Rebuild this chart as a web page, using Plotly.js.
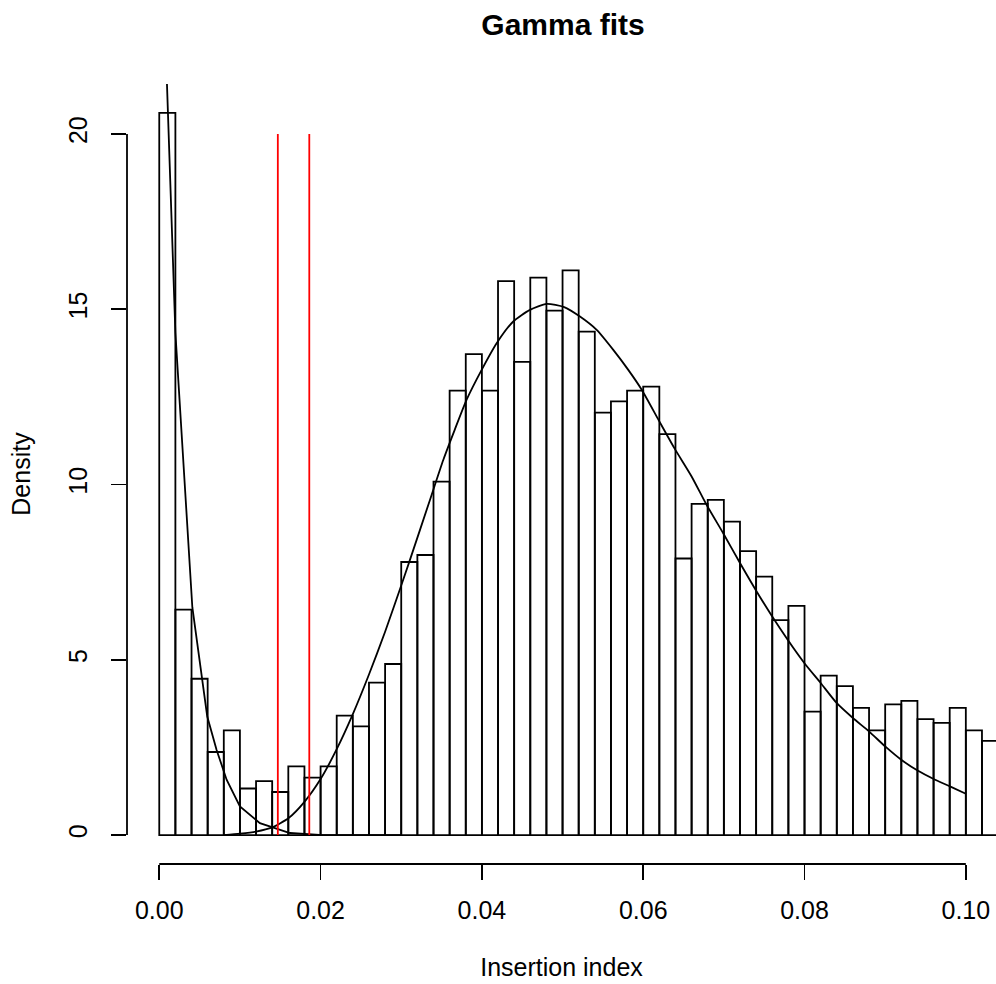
<!DOCTYPE html>
<html>
<head>
<meta charset="utf-8">
<script src="https://cdn.plot.ly/plotly-3.0.1.min.js"></script>
<style>
  html, body { margin: 0; padding: 0; background: #ffffff; }
  #chart { width: 996px; height: 984px; }
</style>
</head>
<body>
<div id="chart"></div>
<script>
// Histogram of the insertion index (bin width 0.002), density scale
const binMids = [
  0.001, 0.003, 0.005, 0.007, 0.009, 0.011, 0.013, 0.015, 0.017, 0.019,
  0.021, 0.023, 0.025, 0.027, 0.029, 0.031, 0.033, 0.035, 0.037, 0.039,
  0.041, 0.043, 0.045, 0.047, 0.049, 0.051, 0.053, 0.055, 0.057, 0.059,
  0.061, 0.063, 0.065, 0.067, 0.069, 0.071, 0.073, 0.075, 0.077, 0.079,
  0.081, 0.083, 0.085, 0.087, 0.089, 0.091, 0.093, 0.095, 0.097, 0.099,
  0.101, 0.103
];
const density = [
  20.60, 6.43, 4.46, 2.37, 2.99, 1.33, 1.54, 1.23, 1.96, 1.64,
  1.96, 3.41, 3.10, 4.35, 4.88, 7.79, 7.99, 10.08, 12.68, 13.72,
  12.68, 15.80, 13.50, 15.90, 14.96, 16.11, 14.36, 12.05, 12.37, 12.68,
  12.79, 11.44, 7.89, 9.45, 9.56, 8.94, 8.10, 7.37, 6.13, 6.54,
  3.52, 4.55, 4.25, 3.63, 2.99, 3.73, 3.83, 3.31, 3.20, 3.63,
  2.99, 2.69
];
const binWidth = 0.002;

// Fitted gamma density for the low component
const fitLowX = [0.00087, 0.002, 0.0041, 0.00505, 0.00595, 0.00711, 0.00835, 0.01, 0.01248, 0.0162, 0.0203, 0.03];
const fitLowY = [22.0, 14.33, 6.5, 4.95, 3.38, 2.43, 1.58, 0.82, 0.34, 0.06, 0.0, 0.0];

// Fitted gamma density for the main component
const fitHighX = [
  0.008, 0.010, 0.012, 0.014, 0.016, 0.018, 0.020, 0.022, 0.024, 0.026,
  0.028, 0.030, 0.03108, 0.03356, 0.03521, 0.03663, 0.03811, 0.03997, 0.04183, 0.04389,
  0.04596, 0.04803, 0.0502, 0.05216, 0.05423, 0.05629, 0.05815, 0.0598, 0.06193, 0.06388,
  0.066, 0.06786, 0.06992, 0.072, 0.07406, 0.07695, 0.07997, 0.082, 0.08398, 0.086,
  0.08799, 0.09, 0.09199, 0.09402, 0.09601, 0.09803, 0.1
];
const fitHighY = [
  0.0, 0.04, 0.10, 0.22, 0.48, 0.95, 1.60, 2.45, 3.45, 4.58,
  5.80, 7.12, 7.85, 9.56, 10.7, 11.56, 12.42, 13.27, 14.03, 14.65,
  14.98, 15.15, 15.06, 14.79, 14.41, 13.84, 13.27, 12.71, 11.83, 11.03,
  10.23, 9.42, 8.61, 7.76, 6.95, 5.90, 4.91, 4.34, 3.77, 3.34,
  2.96, 2.53, 2.15, 1.84, 1.60, 1.39, 1.18
];

// Thresholds marked in red
const cutoffs = [0.0147, 0.0186];
const cutoffTop = 20;

const xTicks = [0, 0.02, 0.04, 0.06, 0.08, 0.10];
const xTickText = ['0.00', '0.02', '0.04', '0.06', '0.08', '0.10'];
const yTicks = [0, 5, 10, 15, 20];
const yTickText = ['0', '5', '10', '15', '20'];

const FONT = 'Liberation Sans, Arial, Helvetica, sans-serif';
const LW = 1.8;

const traces = [
  {
    type: 'bar',
    x: binMids,
    y: density,
    width: binWidth,
    marker: { color: 'rgba(255,255,255,0)', line: { color: '#000000', width: LW } },
    hoverinfo: 'x+y',
    showlegend: false
  },
  {
    type: 'scatter', mode: 'lines',
    x: fitLowX, y: fitLowY,
    line: { color: '#000000', width: LW },
    showlegend: false
  },
  {
    type: 'scatter', mode: 'lines',
    x: fitHighX, y: fitHighY,
    line: { color: '#000000', width: LW, shape: 'spline', smoothing: 0.6 },
    showlegend: false
  }
];

cutoffs.forEach(function (c) {
  traces.push({
    type: 'scatter', mode: 'lines',
    x: [c, c], y: [0, cutoffTop],
    line: { color: '#ff0000', width: LW },
    showlegend: false
  });
});

const layout = {
  width: 996,
  height: 984,
  margin: { l: 127, r: 0, t: 84, b: 120, pad: 0 },
  paper_bgcolor: '#ffffff',
  plot_bgcolor: '#ffffff',
  font: { family: FONT, size: 25, color: '#000000' },
  title: {
    text: '<b>Gamma fits</b>',
    font: { family: FONT, size: 30, color: '#000000' },
    xref: 'container', yref: 'container',
    x: 563 / 996, xanchor: 'center',
    y: 1 - 24 / 984, yanchor: 'middle'
  },
  bargap: 0,
  xaxis: {
    range: [-0.004, 0.10374],
    tickvals: xTicks,
    ticktext: xTickText,
    ticks: 'outside', ticklen: 15, tickwidth: LW, tickcolor: '#000000',
    ticklabelstandoff: 9,
    showline: false, zeroline: false, showgrid: false,
    tickfont: { family: FONT, size: 25, color: '#000000' },
    title: { text: 'Insertion index', font: { family: FONT, size: 25, color: '#000000' }, standoff: 35 },
    automargin: false
  },
  yaxis: {
    range: [-0.824, 21.424],
    tickvals: yTicks,
    ticktext: yTickText,
    tickangle: -90,
    ticks: 'outside', ticklen: 15, tickwidth: LW, tickcolor: '#000000',
    ticklabelstandoff: 14,
    showline: false, zeroline: false, showgrid: false,
    tickfont: { family: FONT, size: 25, color: '#000000' },
    title: { text: 'Density', font: { family: FONT, size: 25, color: '#000000' }, standoff: 26 },
    automargin: false
  },
  shapes: [
    // axis lines spanning only the labelled tick range
    { type: 'line', xref: 'x', yref: 'paper', x0: 0, x1: 0.1, y0: 0, y1: 0,
      line: { color: '#000000', width: LW } },
    { type: 'line', xref: 'paper', yref: 'y', x0: 0, x1: 0, y0: 0, y1: 20,
      line: { color: '#000000', width: LW } }
  ]
};

Plotly.newPlot('chart', traces, layout, { displayModeBar: false, staticPlot: true });
</script>
</body>
</html>
